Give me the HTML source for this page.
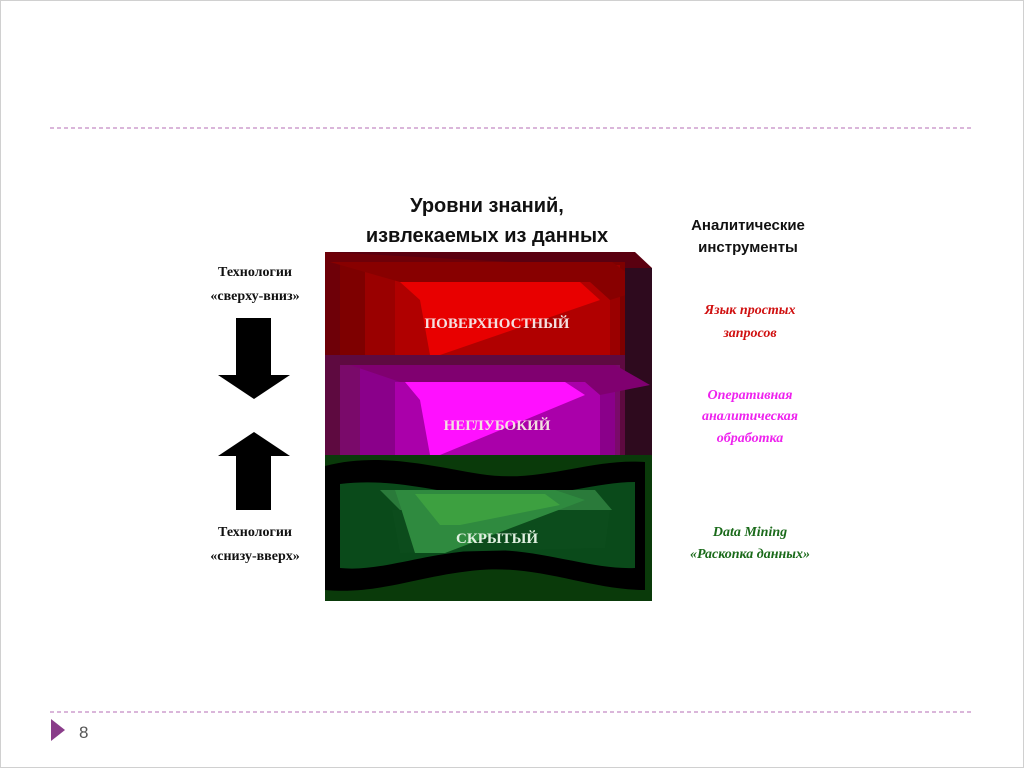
<!DOCTYPE html>
<html><head><meta charset="utf-8"><style>
body{margin:0;width:1024px;height:768px;background:#fff;overflow:hidden}
svg{display:block}
</style></head><body>
<svg width="1024" height="768" viewBox="0 0 1024 768" xmlns="http://www.w3.org/2000/svg">
<rect x="0.5" y="0.5" width="1023" height="767" fill="#fff" stroke="#d0d0d0"/>
<line x1="50" y1="128" x2="972" y2="128" stroke="#c48ac4" stroke-width="1.3" stroke-dasharray="4,3"/>
<line x1="50" y1="712" x2="972" y2="712" stroke="#c48ac4" stroke-width="1.3" stroke-dasharray="4,3"/>
<polygon points="51,719 51,741 65,730" fill="#8a3d8a"/>
<text x="79" y="738" font-family="Liberation Sans, sans-serif" font-size="17" fill="#555">8</text>

<g font-family="Liberation Sans, sans-serif" font-weight="bold" text-anchor="middle" fill="#111">
<text x="487" y="212" font-size="20">Уровни знаний,</text>
<text x="487" y="242" font-size="20">извлекаемых из данных</text>
<text x="748" y="230" font-size="15">Аналитические</text>
<text x="748" y="252" font-size="15">инструменты</text>
</g>
<g font-family="Liberation Serif, serif" text-anchor="middle" fill="#111" font-size="14" font-weight="bold">
<text x="255" y="276">Технологии</text>
<text x="255" y="300">«сверху-вниз»</text>
<text x="255" y="536">Технологии</text>
<text x="255" y="560">«снизу-вверх»</text>
</g>
<g font-family="Liberation Serif, serif" font-style="italic" font-weight="bold" text-anchor="middle" font-size="14">
<text x="750" y="314" fill="#d01010">Язык простых</text>
<text x="750" y="337" fill="#d01010">запросов</text>
<text x="750" y="399" fill="#ee22ee">Оперативная</text>
<text x="750" y="420" fill="#ee22ee">аналитическая</text>
<text x="750" y="442" fill="#ee22ee">обработка</text>
<text x="750" y="536" fill="#1a6a1a">Data Mining</text>
<text x="750" y="558" fill="#1a6a1a">«Раскопка данных»</text>
</g>

<!-- arrows -->
<polygon points="236,318 271,318 271,375 290,375 254,399 218,375 236,375" fill="#000"/>
<polygon points="254,432 290,456 271,456 271,510 236,510 236,456 218,456" fill="#000"/>

<!-- red layer -->
<rect x="325" y="252" width="300" height="103" fill="#6e0008"/>
<polygon points="325,252 635,252 652,268 625,268" fill="#5a0010"/>
<rect x="340" y="262" width="285" height="93" fill="#7e0000"/>
<rect x="365" y="265" width="255" height="90" fill="#9a0000"/>
<rect x="395" y="278" width="215" height="77" fill="#b00000"/>
<polygon points="400,282 580,282 600,300 440,355 430,355 420,300" fill="#e80000"/>
<polygon points="330,262 612,262 648,288 610,300 590,282 400,282" fill="#880000"/>
<polygon points="625,268 652,268 652,470 625,455" fill="#2e0a1e"/>
<!-- purple layer -->
<rect x="325" y="355" width="300" height="100" fill="#5e0a40"/>
<rect x="340" y="365" width="280" height="90" fill="#7a0a6a"/>
<rect x="360" y="368" width="255" height="87" fill="#8a008a"/>
<rect x="395" y="382" width="205" height="73" fill="#aa00aa"/>
<polygon points="405,382 565,382 585,395 440,455 430,455 420,400" fill="#ff10ff"/>
<polygon points="350,365 615,365 650,385 600,395 585,382 400,382" fill="#800070"/>
<!-- green layer -->
<rect x="325" y="455" width="327" height="146" fill="#0a3a0a"/>
<path d="M325,466 C380,452 430,466 480,474 C540,484 590,458 645,462 L645,590 C590,590 540,565 480,570 C420,575 380,595 325,590 Z" fill="#000"/>
<path d="M340,484 C390,478 430,490 480,497 C540,503 590,482 635,482 L635,568 C590,570 540,548 480,550 C420,554 380,572 340,568 Z" fill="#0a4a1a"/>
<polygon points="380,490 595,490 612,510 400,510" fill="#2a7a3a"/>
<polygon points="392,510 610,510 605,548 400,553" fill="#0c4c1c"/>
<polygon points="395,490 555,490 585,500 445,553 415,553 400,505" fill="#2f8a3f"/>
<polygon points="415,494 545,494 560,505 460,525 440,525" fill="#3da040"/>

<g font-family="Liberation Serif, serif" font-weight="bold" text-anchor="middle" font-size="15" fill="#f4e0e0">
<text x="497" y="328">ПОВЕРХНОСТНЫЙ</text>
<text x="497" y="430">НЕГЛУБОКИЙ</text>
<text x="497" y="543" fill="#e0f0e0">СКРЫТЫЙ</text>
</g>
</svg>
</body></html>
